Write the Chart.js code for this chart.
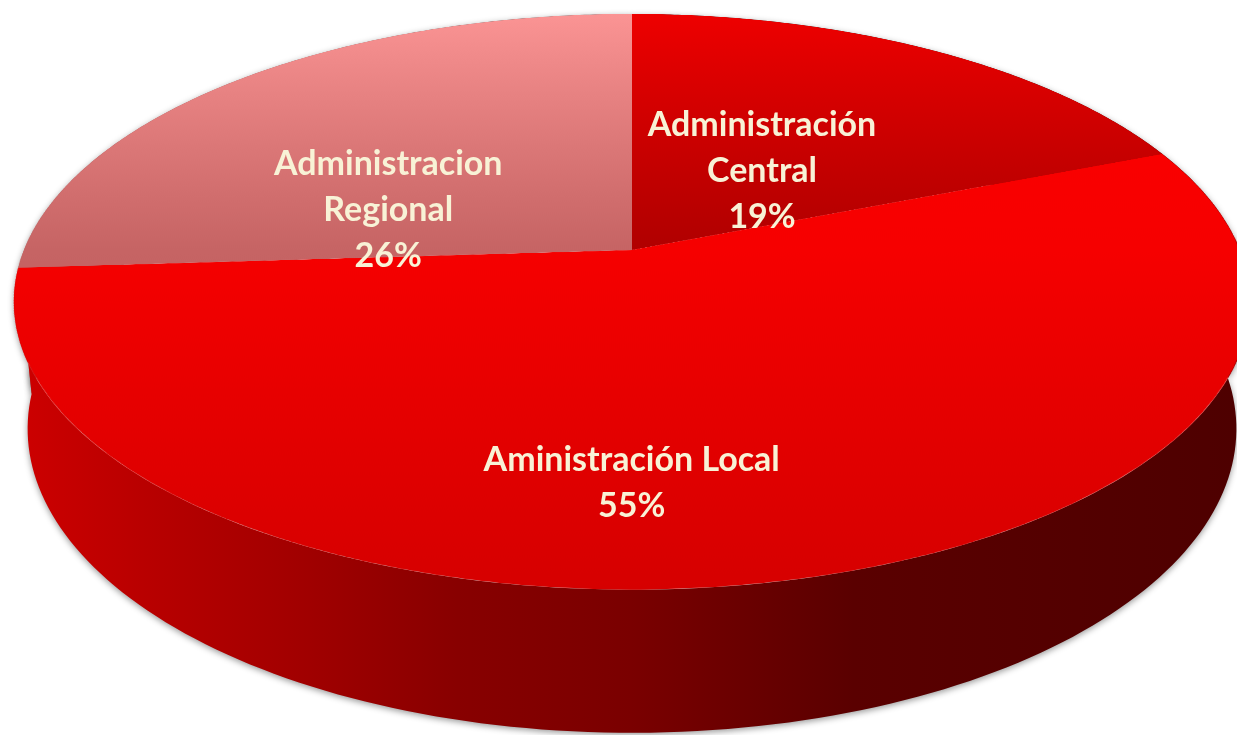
<!DOCTYPE html>
<html>
<head>
<meta charset="utf-8">
<style>
  html, body { margin: 0; background: #fff; }
  #stage { position: relative; width: 1237px; height: 735px; overflow: hidden; }
  #side { position: absolute; left: 0; top: 0; z-index: 0; }
  #pie { position: absolute; left: 24px; top: -358px; z-index: 1; transform: perspective(3002px) rotateX(62.74deg); }
  #labels { position: absolute; left: 0; top: 0; z-index: 2; pointer-events: none; }
</style>
</head>
<body>
<div id="stage">
  <canvas id="side" width="1237" height="735"></canvas>
  <canvas id="pie" width="1216" height="1216"></canvas>
  <canvas id="labels" width="1237" height="735"></canvas>
</div>

<script src="https://cdn.jsdelivr.net/npm/chart.js"></script>
<script>
    // data
    const categories = [["Administración", "Central"], ["Aministración Local"], ["Administracion", "Regional"]];
    const shares = [19, 55, 26];

    // top face gradient stops (top edge -> centre -> bottom edge of the disc)
    const faceColors = [["#ee0000", "#b00000", "#a00000"], ["#ff0000", "#f60000", "#d60000"], ["#fb9494", "#c66464", "#b05050"]];
    // side wall colours, left -> right
    const sideColors = [["#a00000", "#500000"], ["#d00000", "#4a0000"], ["#b86060", "#7a3a3a"]];
    const labelNudge = [[-29, 28], [-73, 84], [-35, 50]];

    // perspective of the tilted disc (matches the css transform on #pie)
    const TILT = 62.74 * Math.PI / 180, PERSP = 3002, CX = 632, CY = 250, DEPTH = 144, LINE = 46;

    function project(u, v, h) {
        const Y = v * Math.cos(TILT) - h * Math.sin(TILT);
        const Z = v * Math.sin(TILT) + h * Math.cos(TILT);
        const s = PERSP / (PERSP - Z);
        return [CX + u * s, CY + Y * s];
    }

    const sidePlugin = {
        id: "side3d",
        afterDraw(chart) {
            const meta = chart.getDatasetMeta(0);
            const ctx = document.getElementById("side").getContext("2d");
            ctx.clearRect(0, 0, 1237, 735);
            const mid = a => (a.startAngle + a.endAngle) / 2;
            const order = meta.data.map((a, i) => i).sort((i, j) => Math.sin(mid(meta.data[i])) - Math.sin(mid(meta.data[j])));
            order.forEach(i => {
                const arc = meta.data[i], R = arc.outerRadius, n = 160;
                ctx.beginPath();
                for (let k = 0; k <= n; k++) {
                    const a = arc.startAngle + (arc.endAngle - arc.startAngle) * k / n;
                    const p = project(R * Math.cos(a), R * Math.sin(a), 0);
                    k ? ctx.lineTo(p[0], p[1]) : ctx.moveTo(p[0], p[1]);
                }
                for (let k = n; k >= 0; k--) {
                    const a = arc.startAngle + (arc.endAngle - arc.startAngle) * k / n;
                    const p = project(R * Math.cos(a), R * Math.sin(a), -DEPTH);
                    ctx.lineTo(p[0], p[1]);
                }
                ctx.closePath();
                const g = ctx.createLinearGradient(0, 0, 1237, 0);
                if (i === 1) {
                    g.addColorStop(0, "#d00000"); g.addColorStop(0.12, "#b80000"); g.addColorStop(0.25, "#a00000");
                    g.addColorStop(0.37, "#880000"); g.addColorStop(0.51, "#7a0000"); g.addColorStop(0.69, "#5a0000");
                    g.addColorStop(1, "#4e0000");
                } else {
                    g.addColorStop(0, sideColors[i][0]); g.addColorStop(1, sideColors[i][1]);
                }
                ctx.save();
                ctx.shadowColor = "rgba(0,0,0,0.4)"; ctx.shadowBlur = 6; ctx.shadowOffsetY = 2;
                ctx.fillStyle = g;
                ctx.fill();
                ctx.restore();
            });

            // labels
            const lctx = document.getElementById("labels").getContext("2d");
            lctx.clearRect(0, 0, 1237, 735);
            lctx.font = "bold 34px Lato";
            lctx.fillStyle = "#f8f2d6";
            lctx.textAlign = "center";
            lctx.textBaseline = "middle";
            const total = shares.reduce((s, v) => s + v, 0);
            meta.data.forEach((arc, i) => {
                const tp = arc.tooltipPosition();
                const [x, y] = project(tp.x - arc.x, tp.y - arc.y, 0);
                const lines = [...categories[i], Math.round(shares[i] / total * 100) + "%"];
                lines.forEach((t, k) => lctx.fillText(t, x + labelNudge[i][0], y + labelNudge[i][1] + (k - (lines.length - 1) / 2) * LINE));
            });
        }
    };

    function faceGradient(c) {
        const chart = c.chart, area = chart.chartArea;
        if (!area) return faceColors[c.dataIndex][1];
        const g = chart.ctx.createLinearGradient(0, area.top, 0, area.bottom);
        const cols = faceColors[c.dataIndex];
        g.addColorStop(0, cols[0]); g.addColorStop(0.5, cols[1]); g.addColorStop(1, cols[2]);
        return g;
    }

    new Chart(document.getElementById("pie"), {
        type: "pie",
        data: { labels: categories, datasets: [{ data: shares, backgroundColor: faceGradient, borderWidth: 0, hoverOffset: 0 }] },
        options: {
            responsive: false, animation: false, events: [],
            layout: { padding: 0 },
            plugins: { legend: { display: false }, tooltip: { enabled: false } }
        },
        plugins: [sidePlugin]
    });
</script>
</body>
</html>
